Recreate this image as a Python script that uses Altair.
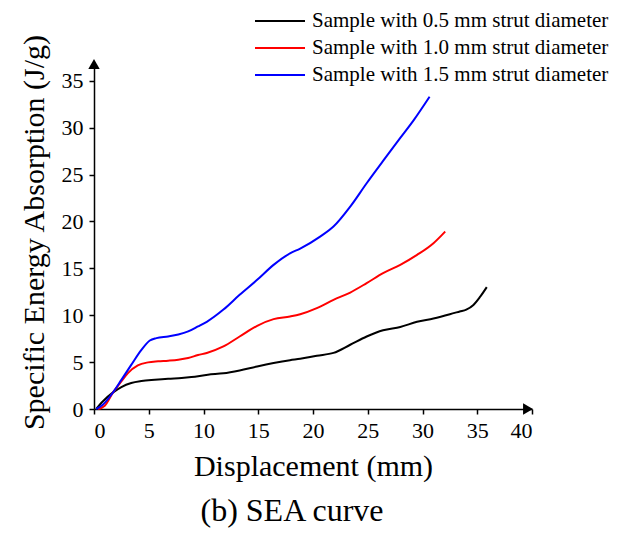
import altair as alt
import pandas as pd

FONT = "Liberation Serif"

series_names = [
    "Sample with 0.5 mm strut diameter",
    "Sample with 1.0 mm strut diameter",
    "Sample with 1.5 mm strut diameter",
]
series_colors = ["#000000", "#ff0000", "#0000ff"]

# 0.5 mm strut diameter (black)
x_05 = [0.2, 0.82, 1.74, 2.5, 3.4, 4.33, 5.55, 6.77, 8.0, 8.9, 10.4, 11.82, 13.3,
        14.9, 16.4, 17.9, 18.83, 20.35, 21.87, 23.4, 24.9, 26.4, 27.97, 29.5,
        31.0, 32.5, 33.4, 34.0, 34.65, 35.25, 35.87]
y_05 = [0.0, 0.82, 1.77, 2.34, 2.77, 2.98, 3.12, 3.23, 3.3, 3.4, 3.66, 3.8, 4.11,
        4.54, 4.9, 5.2, 5.35, 5.68, 5.98, 6.85, 7.73, 8.4, 8.75, 9.3,
        9.65, 10.1, 10.4, 10.6, 11.1, 11.95, 13.0]

# 1.0 mm strut diameter (red)
x_10 = [0.37, 0.98, 1.74, 2.5, 3.1, 4.0, 4.94, 5.85, 6.77, 7.7, 8.6, 9.5, 10.3,
        11.82, 13.3, 14.9, 16.4, 17.9, 18.83, 20.35, 21.87, 23.4, 24.9, 26.4,
        27.97, 29.5, 31.0, 32.07]
y_10 = [0.0, 0.35, 1.77, 2.95, 3.83, 4.65, 4.97, 5.08, 5.15, 5.25, 5.43, 5.75, 5.98,
        6.67, 7.73, 8.87, 9.58, 9.86, 10.1, 10.75, 11.64, 12.42, 13.42, 14.48,
        15.37, 16.43, 17.68, 18.92]

# 1.5 mm strut diameter (blue)
x_15 = [0.2, 0.8, 1.74, 2.5, 3.4, 4.33, 5.1, 5.7, 6.77, 7.7, 8.6, 9.5, 10.3,
        11.82, 13.3, 14.9, 16.4, 17.9, 18.83, 20.65, 21.87, 23.4, 24.9, 26.4,
        27.97, 29.2, 30.65]
y_15 = [0.0, 0.45, 1.77, 3.1, 4.7, 6.3, 7.3, 7.56, 7.74, 7.95, 8.27, 8.8, 9.3,
        10.6, 12.17, 13.77, 15.37, 16.6, 17.1, 18.38, 19.45, 21.58, 24.07, 26.45,
        28.9, 30.8, 33.3]

x_tick_values = [0, 2.5, 5, 7.5, 10, 12.5, 15, 17.5, 20, 22.5, 25, 27.5, 30, 32.5, 35, 37.5, 40]
y_tick_values = [0, 2.5, 5, 7.5, 10, 12.5, 15, 17.5, 20, 22.5, 25, 27.5, 30, 32.5, 35]

frames = []
for k, (xs, ys) in enumerate([(x_05, y_05), (x_10, y_10), (x_15, y_15)]):
    frames.append(pd.DataFrame({"x": xs, "y": ys, "series": series_names[k], "k": k}))
df = pd.concat(frames, ignore_index=True)

x_scale = alt.Scale(domain=[0, 40], nice=False)
y_scale = alt.Scale(domain=[0, 37], nice=False)

major_test = "datum.value % 5 === 0"

x_axis = alt.Axis(
    title="Displacement (mm)",
    values=x_tick_values,
    labelExpr=f"{major_test} ? datum.label : ''",
    tickSize={"condition": {"test": major_test, "value": 5}, "value": 3},
    labelPadding=6,
    titleY=42,
    titleBaseline="top",
)
y_axis = alt.Axis(
    title="Specific Energy Absorption (J/g)",
    values=y_tick_values,
    labelExpr=f"{major_test} ? datum.label : ''",
    tickSize={"condition": {"test": major_test, "value": 5}, "value": 3},
    labelPadding=6,
    titleX=-45,
    titleY=170,
)

lines = alt.Chart(df).mark_line(strokeWidth=2, interpolate="monotone").encode(
    x=alt.X("x:Q", scale=x_scale, axis=x_axis),
    y=alt.Y("y:Q", scale=y_scale, axis=y_axis),
    color=alt.Color(
        "series:N",
        scale=alt.Scale(domain=series_names, range=series_colors),
        legend=alt.Legend(
            title=None,
            orient="none",
            legendX=175,
            legendY=-52,
            symbolType="M-2.5,0L2.5,0",
            symbolSize=400,
            symbolStrokeWidth=2,
            labelFont=FONT,
            labelFontSize=21,
            labelColor="black",
            labelOffset=21,
            labelLimit=0,
            rowPadding=6,
            padding=0,
        ),
    ),
    detail="k:N",
)

arrow_x = alt.Chart(pd.DataFrame({"x": [40], "y": [0]})).mark_point(
    shape="triangle-right", filled=True, color="black", opacity=1, size=130, xOffset=-4
).encode(x=alt.X("x:Q", scale=x_scale), y=alt.Y("y:Q", scale=y_scale))

arrow_y = alt.Chart(pd.DataFrame({"x": [0], "y": [37]})).mark_point(
    shape="triangle-up", filled=True, color="black", opacity=1, size=130, yOffset=2
).encode(x=alt.X("x:Q", scale=x_scale), y=alt.Y("y:Q", scale=y_scale))

chart = alt.layer(lines, arrow_x, arrow_y).properties(
    width=438,
    height=347,
    background="white",
    autosize=alt.AutoSizeParams(type="none"),
    padding={"left": 86, "top": 54, "right": 80, "bottom": 119},
    title=alt.TitleParams(
        text="(b) SEA curve",
        orient="bottom",
        anchor="middle",
        font=FONT,
        fontSize=32,
        fontWeight="normal",
        color="black",
        dx=-21,
        offset=15,
    ),
).configure_view(stroke=None).configure_axis(
    grid=False,
    domainColor="black",
    domainWidth=1.5,
    tickColor="black",
    tickWidth=1.5,
    labelFont=FONT,
    labelFontSize=22,
    labelColor="black",
    titleFont=FONT,
    titleFontSize=30,
    titleFontWeight="normal",
    titleColor="black",
)

chart.save("out.html", embed_options={"renderer": "svg", "actions": False})
